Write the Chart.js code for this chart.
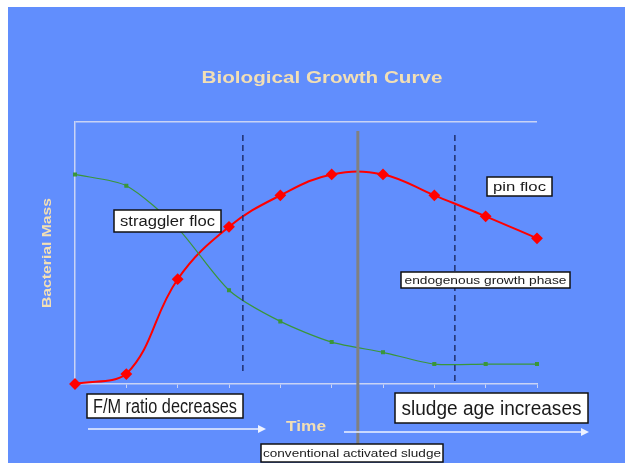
<!DOCTYPE html>
<html>
<head>
<meta charset="utf-8">
<script src="https://cdn.jsdelivr.net/npm/chart.js@4"></script>
<style>
  body { margin: 0; background: #fff; }
  canvas { display: block; }
</style>
</head>
<body>
<canvas id="growthCanvas" width="625" height="463"></canvas>
<script>
const timeSteps = ["1", "2", "3", "4", "5", "6", "7", "8", "9", "10"];
const bacterialMass = [0, 3.8, 40, 60, 72, 80, 80, 72, 64, 55.6];
const flocMass = [80, 75.7, 59.5, 35.8, 23.9, 16, 12.1, 7.6, 7.6, 7.6];
const dashedAt = [3.27, 7.4];
const conventionalAt = 5.51;

const bgBlue = "#618efd";
const paleText = "#f2dfb5";
const axisColor = "#c9d3f5";
const sans = "'Liberation Sans', Arial, sans-serif";

// white boxes with captions, in pixels
const notes = [
    {text: "straggler floc", x: 114, y: 210, w: 107, h: 22, size: 14, tw: 95},
    {text: "pin floc", x: 487, y: 177, w: 65, h: 19, size: 12, tw: 53},
    {text: "endogenous growth phase", x: 401, y: 272, w: 169, h: 16, size: 11, tw: 162},
    {text: "F/M ratio decreases", x: 87, y: 394, w: 156, h: 24, size: 20, tw: 144},
    {text: "sludge age increases", x: 395, y: 393, w: 193, h: 30, size: 20, tw: 180},
    {text: "conventional activated sludge", x: 261, y: 444, w: 182, h: 18, size: 11, tw: 178}
];

// draw text centred on (cx, cy), squeezed or stretched to width tw
function fitText(c, text, cx, cy, tw, font, rot) {
    c.save();
    c.font = font;
    c.textAlign = "center";
    c.textBaseline = "middle";
    const natural = c.measureText(text).width;
    c.translate(cx, cy);
    if (rot) c.rotate(rot);
    c.scale(tw / natural, 1);
    c.fillText(text, 0, 0);
    c.restore();
}

const backdrop = {
    id: "backdrop",
    beforeDraw(chart) {
        const c = chart.ctx;
        c.save();
        c.fillStyle = "#fff";
        c.fillRect(0, 0, chart.width, chart.height);
        c.fillStyle = bgBlue;
        c.fillRect(8, 7, chart.width - 8, chart.height - 7);
        c.fillStyle = paleText;
        fitText(c, "Biological Growth Curve", 322, 78, 241, "bold 17px " + sans);
        fitText(c, "Bacterial Mass", 47, 253, 110, "bold 13px " + sans, -Math.PI / 2);
        c.restore();
    }
};

const markers = {
    id: "markers",
    afterDatasetsDraw(chart) {
        const c = chart.ctx;
        const xs = chart.scales.x, ys = chart.scales.y;
        c.save();
        c.strokeStyle = "#1f2f6f";
        c.lineWidth = 1.5;
        c.setLineDash([6, 4]);
        dashedAt.forEach((v, i) => {
            const px = xs.getPixelForValue(v);
            c.beginPath();
            c.moveTo(px, ys.getPixelForValue(95));
            c.lineTo(px, ys.getPixelForValue(i === 0 ? 3.4 : 0));
            c.stroke();
        });
        c.setLineDash([]);
        c.strokeStyle = "#808080";
        c.lineWidth = 3;
        const gx = xs.getPixelForValue(conventionalAt);
        c.beginPath();
        c.moveTo(gx, ys.getPixelForValue(96.6));
        c.lineTo(gx, 444);
        c.stroke();
        c.restore();
    },
    afterDraw(chart) {
        const c = chart.ctx;
        c.save();
        // time arrows
        c.strokeStyle = "#eef2ff";
        c.fillStyle = "#eef2ff";
        c.lineWidth = 1.5;
        [[88, 266, 429], [344, 589, 432]].forEach(([x1, x2, y]) => {
            c.beginPath();
            c.moveTo(x1, y);
            c.lineTo(x2 - 6, y);
            c.stroke();
            c.beginPath();
            c.moveTo(x2, y);
            c.lineTo(x2 - 8, y - 4);
            c.lineTo(x2 - 8, y + 4);
            c.closePath();
            c.fill();
        });
        c.fillStyle = paleText;
        fitText(c, "Time", 306, 427, 40, "bold 15px " + sans);

        notes.forEach(n => {
            c.fillStyle = "#fff";
            c.fillRect(n.x, n.y, n.w, n.h);
            c.strokeStyle = "#111";
            c.lineWidth = 1.5;
            c.strokeRect(n.x, n.y, n.w, n.h);
            c.fillStyle = "#1a1a1a";
            fitText(c, n.text, n.x + n.w / 2, n.y + n.h / 2 + 1, n.tw, n.size + "px " + sans);
        });
        c.restore();
    }
};

new Chart(document.getElementById("growthCanvas"), {
    type: "line",
    data: {
        labels: timeSteps,
        datasets: [
            {
                data: flocMass,
                borderColor: "#3a963a",
                backgroundColor: "#3a963a",
                borderWidth: 1.2,
                pointStyle: "rect",
                pointRadius: 2,
                tension: 0.25,
                clip: false
            },
            {
                data: bacterialMass,
                borderColor: "#ff0000",
                backgroundColor: "#ff0000",
                borderWidth: 2,
                pointStyle: "rectRot",
                pointRadius: 4.5,
                tension: 0.4,
                clip: false
            }
        ]
    },
    options: {
        responsive: false,
        animation: false,
        layout: {padding: {left: 0, right: 88, top: 122, bottom: 0}},
        plugins: {
            legend: {display: false},
            tooltip: {enabled: false}
        },
        scales: {
            x: {
                ticks: {display: false},
                grid: {drawOnChartArea: false, drawTicks: true, tickLength: 4, color: axisColor},
                border: {color: axisColor, width: 1.5},
                afterFit: s => { s.height = 79; }
            },
            y: {
                min: 0,
                max: 100,
                ticks: {display: false, stepSize: 100},
                grid: {
                    drawTicks: false,
                    lineWidth: 1.5,
                    color: ctx => (ctx.tick && ctx.tick.value === 100 ? axisColor : "transparent")
                },
                border: {color: axisColor, width: 1.5},
                afterFit: s => { s.width = 75; }
            }
        }
    },
    plugins: [backdrop, markers]
});
</script>
</body>
</html>
